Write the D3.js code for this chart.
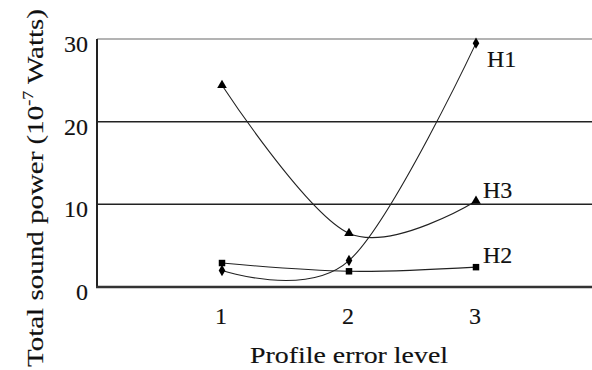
<!DOCTYPE html>
<html>
<head>
<meta charset="utf-8">
<script src="https://cdn.jsdelivr.net/npm/d3@7"></script>
<style>
  html, body { margin: 0; padding: 0; background: #fff; }
  svg { display: block; }
  text { font-family: "Liberation Serif", "Times New Roman", Times, serif; fill: #111; stroke: #111; stroke-width: 0.15px; }
</style>
</head>
<body>
<div id="chart"></div>
<script>
// ---- data ----
const levels = [1, 2, 3];
const h1 = [2.0, 3.2, 29.5];
const h2 = [2.9, 1.9, 2.4];
const h3 = [24.4, 6.5, 10.4];
const yTicks = [0, 10, 20, 30];
const seriesNames = ["H1", "H2", "H3"];
const xTitle = "Profile error level";

const W = 592, H = 370;
const svg = d3.select("#chart").append("svg").attr("width", W).attr("height", H);
svg.append("rect").attr("width", W).attr("height", H).attr("fill", "#fff");

const x = d3.scaleLinear().domain([1, 3]).range([222, 476]);
const y = d3.scaleLinear().domain([0, 30]).range([287, 39]);
const left = 97, right = W;

// gridlines
svg.append("g").selectAll("line").data(yTicks.filter(v => v > 0)).join("line")
  .attr("x1", left).attr("x2", right)
  .attr("y1", d => y(d)).attr("y2", d => y(d))
  .attr("stroke", d => d === 30 ? "#9a9a9a" : "#222")
  .attr("stroke-width", 1.5);

// axes lines
svg.append("line").attr("x1", left).attr("x2", left).attr("y1", y(30)).attr("y2", y(0) + 1)
  .attr("stroke", "#222").attr("stroke-width", 2);
svg.append("line").attr("x1", left - 1).attr("x2", right).attr("y1", y(0)).attr("y2", y(0))
  .attr("stroke", "#333").attr("stroke-width", 2.5);

// y tick labels
svg.append("g").selectAll("text").data(yTicks).join("text")
  .attr("x", 88).attr("y", d => y(d) + 13)
  .attr("text-anchor", "end").attr("font-size", 24)
  .text(d => d);

// x tick labels
svg.append("g").selectAll("text").data(levels).join("text")
  .attr("x", d => x(d) - 1).attr("y", 324)
  .attr("text-anchor", "middle").attr("font-size", 24)
  .text(d => d);

// x title
svg.append("text").attr("x", 349).attr("y", 363).attr("text-anchor", "middle")
  .attr("font-size", 23).attr("textLength", 198).attr("lengthAdjust", "spacingAndGlyphs")
  .text(xTitle);

// y title
const yt = svg.append("text")
  .attr("transform", "translate(43,188) rotate(-90)")
  .attr("text-anchor", "middle").attr("font-size", 24)
  .attr("textLength", 358).attr("lengthAdjust", "spacingAndGlyphs");
yt.append("tspan").text("Total sound power (10");
yt.append("tspan").attr("font-size", 15).attr("dy", -10).text("-7");
yt.append("tspan").attr("dy", 10).text(" Watts)");

// series
const series = [
  { name: seriesNames[0], vals: h1, sym: d3.symbolDiamond, size: 38 },
  { name: seriesNames[1], vals: h2, sym: d3.symbolSquare, size: 42 },
  { name: seriesNames[2], vals: h3, sym: d3.symbolTriangle, size: 40 }
];
const line = d3.line().x(d => x(d[0])).y(d => y(d[1])).curve(d3.curveCardinal.tension(0));

series.forEach(s => {
  const pts = levels.map((l, i) => [l, s.vals[i]]);
  svg.append("path").attr("d", line(pts)).attr("fill", "none")
    .attr("stroke", "#222").attr("stroke-width", 1.1);
  svg.append("g").selectAll("path").data(pts).join("path")
    .attr("transform", d => `translate(${x(d[0])},${y(d[1])})`)
    .attr("d", d3.symbol().type(s.sym).size(s.size))
    .attr("fill", "#000");
});

// series labels (at end of each line)
const labelPos = { H1: [487, 67], H2: [483, 263], H3: [483, 198] };
series.forEach(s => {
  svg.append("text").attr("x", labelPos[s.name][0]).attr("y", labelPos[s.name][1])
    .attr("font-size", 24).text(s.name);
});
</script>
</body>
</html>
